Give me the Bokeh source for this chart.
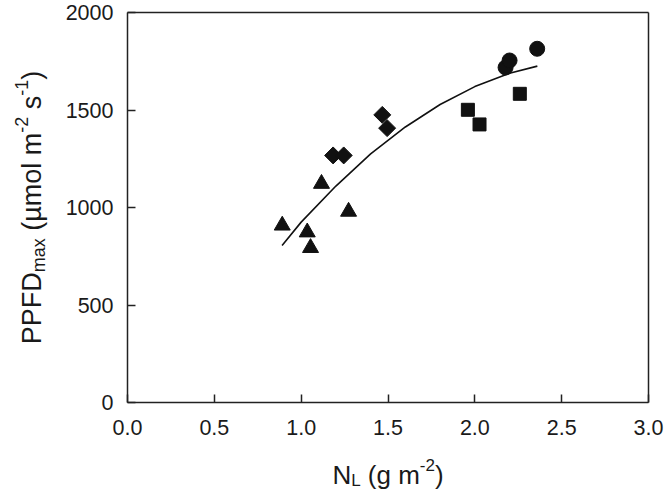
import math
from bokeh.plotting import figure
from bokeh.models import Range1d, Label, FixedTicker, NumeralTickFormatter, LinearAxis
from bokeh.embed import file_html
from bokeh.resources import INLINE

# ---- data ----
tri_x = [0.891, 1.035, 1.054, 1.117, 1.273]
tri_y = [908, 873, 793, 1122, 979]
dia_x = [1.184, 1.245, 1.467, 1.495]
dia_y = [1267, 1267, 1475, 1407]
sq_x = [1.960, 2.027, 2.259]
sq_y = [1501, 1426, 1583]
cir_x = [2.177, 2.200, 2.359]
cir_y = [1718, 1754, 1814]
curve_x = [0.89, 1.0, 1.2, 1.4, 1.6, 1.8, 2.0, 2.2, 2.36]
curve_y = [805, 925, 1110, 1275, 1413, 1528, 1620, 1688, 1725]
x_ticks = [0.0, 0.5, 1.0, 1.5, 2.0, 2.5, 3.0]
y_ticks = [0, 500, 1000, 1500, 2000]

FONT = "Liberation Sans"
INK = "#111111"
LINE = "#222222"
TXT = "#1a1a1a"

# ---- layout (canvas pixels) ----
CW, CH = 666, 490
FL, FR, FT, FB = 127, 648, 12, 402          # where the data box sits
X0, X1, Y0, Y1 = 0.0, 3.0, 0.0, 2000.0
SX = (FR - FL) / (X1 - X0)
SY = (FB - FT) / (Y1 - Y0)
xs, xe = X0 - FL / SX, X1 + (CW - FR) / SX
ys, ye = Y0 - (CH - FB) / SY, Y1 + FT / SY


def dx(px):
    return xs + px / SX


def dy(py):
    return ye - py / SY


p = figure(width=CW, height=CH, output_backend="svg", toolbar_location=None,
           x_range=Range1d(xs, xe), y_range=Range1d(ys, ye),
           min_border=0, min_border_left=0, min_border_right=0,
           min_border_top=0, min_border_bottom=0)
p.background_fill_color = "white"
p.border_fill_color = "white"
p.outline_line_color = None
p.grid.visible = False


def style_axis(ax):
    ax.axis_line_color = LINE
    ax.axis_line_width = 1.5
    ax.major_tick_in = 8
    ax.major_tick_out = 0
    ax.major_tick_line_color = LINE
    ax.major_tick_line_width = 1.5
    ax.minor_tick_line_color = None
    ax.major_label_text_font = FONT
    ax.major_label_text_font_size = "21.5px"
    ax.major_label_text_color = TXT


xa = p.xaxis[0]
style_axis(xa)
xa.fixed_location = Y0
xa.bounds = (X0, X1)
xa.ticker = FixedTicker(ticks=x_ticks)
xa.formatter = NumeralTickFormatter(format="0.0")
xa.major_label_standoff = 17

ya = p.yaxis[0]
style_axis(ya)
ya.fixed_location = X0
ya.bounds = (Y0, Y1)
ya.ticker = FixedTicker(ticks=y_ticks)
ya.formatter = NumeralTickFormatter(format="0")
ya.major_label_standoff = 14

# top and right edges of the box
top = LinearAxis(fixed_location=Y1, bounds=(X0, X1), ticker=FixedTicker(ticks=[]),
                 major_label_text_font_size="0px", axis_line_color=LINE,
                 axis_line_width=1.5, major_tick_line_color=None,
                 minor_tick_line_color=None)
right = LinearAxis(fixed_location=X1, bounds=(Y0, Y1), ticker=FixedTicker(ticks=[]),
                   major_label_text_font_size="0px", axis_line_color=LINE,
                   axis_line_width=1.5, major_tick_line_color=None,
                   minor_tick_line_color=None)
p.add_layout(top, "above")
p.add_layout(right, "right")

# fitted curve and points
p.line(curve_x, curve_y, line_color=INK, line_width=1.6)
p.scatter(tri_x, tri_y, marker="triangle", size=16, fill_color=INK, line_color=INK)
p.scatter(dia_x, dia_y, marker="square", angle=math.pi / 4, size=12,
          fill_color=INK, line_color=INK)
p.scatter(sq_x, sq_y, marker="square", size=13, fill_color=INK, line_color=INK)
p.scatter(cir_x, cir_y, marker="circle", size=15, fill_color=INK, line_color=INK)

# ---- axis titles with sub/superscripts, built from pieces ----
W = {'P': 667, 'F': 611, 'D': 722, ' ': 278, '(': 333, ')': 333, 'µ': 576,
     'm': 833, 'o': 556, 'l': 222, 's': 500, 'a': 556, 'x': 500, '-': 333,
     '2': 556, '1': 556, 'N': 722, 'L': 556, 'g': 556}


def tw(s, size):
    return sum(W.get(c, 556) for c in s) / 1000.0 * size


# y title: rotated, reading bottom to top
FY, fy = 27, 18
ypieces = [("PPFD", FY, 0), ("max", fy, 7), (" (µmol m", FY, 0), ("-2", fy, -10),
           (" s", FY, 0), ("-1", fy, -10), (")", FY, 0)]
total = sum(tw(s, z) for s, z, _ in ypieces)
cur = (FT + FB) / 2 + total / 2
base_x = 31
for s, z, sh in ypieces:
    body = s.lstrip(" ")
    cur -= tw(s[:len(s) - len(body)], z)
    p.add_layout(Label(x=dx(base_x + sh), y=dy(cur), text=body, angle=math.pi / 2,
                       text_font=FONT, text_font_size=f"{z}px", text_color=TXT,
                       text_align="left", text_baseline="alphabetic"))
    cur -= tw(body, z)

# x title
FX, fx = 26, 17
xpieces = [("N", FX, 0), ("L", fx, 6), (" (g m", FX, 0), ("-2", fx, -10), (")", FX, 0)]
total = sum(tw(s, z) for s, z, _ in xpieces)
cur = (FL + FR) / 2 - total / 2
base_y = 474
for s, z, sh in xpieces:
    body = s.lstrip(" ")
    cur += tw(s[:len(s) - len(body)], z)
    p.add_layout(Label(x=dx(cur), y=dy(base_y + sh), text=body,
                       text_font=FONT, text_font_size=f"{z}px", text_color=TXT,
                       text_align="left", text_baseline="alphabetic"))
    cur += tw(body, z)

open("out.html", "w").write(file_html(p, INLINE))
